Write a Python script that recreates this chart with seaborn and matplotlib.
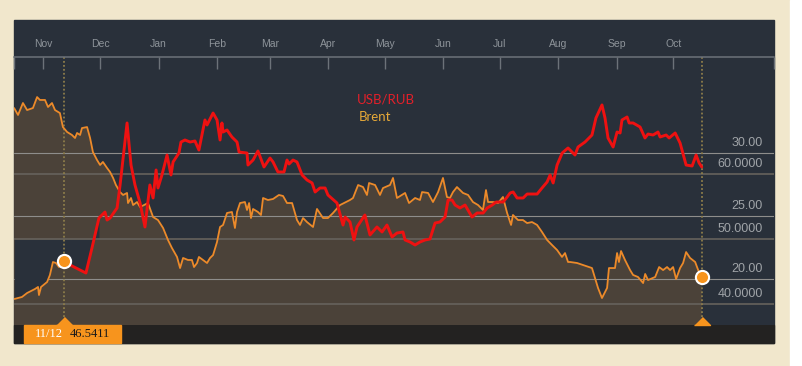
import numpy as np
import pandas as pd
import matplotlib
matplotlib.use("Agg")
import matplotlib.pyplot as plt
import matplotlib.dates as mdates
from matplotlib.patches import Rectangle
from matplotlib.transforms import blended_transform_factory
import seaborn as sns

sns.set_theme(style="white")
plt.rcParams['font.family'] = ['Liberation Sans', 'DejaVu Sans']

START = pd.Timestamp("2014-11-01")

# ---------------- data (days counted from 2014-11-01) ----------------
# USD/RUB before the selected date (drawn in orange)
usd_pre_days = [-15.5, -11.4, -8.7, -4.5, -2.9, -2.4, -1.3, 1.9, 3.4, 5.0,
                6.6, 8.2, 11]
usd_pre_vals = [40.77, 41.08, 41.69, 42.31, 42.62, 41.38, 42.62, 43.38, 44.46, 46.46,
                46.31, 45.69, 46.5411]

# USD/RUB from the selected date on (red)
usd_days = [11, 14.1, 22.5, 25.7, 29.4, 32.6, 33.7, 35.3, 39.0, 40.6,
            42.2, 44.3, 46.4, 48.5, 51.2, 53.8, 56.4, 58.1, 59.7, 60.7,
            62.8, 65.5, 67.6, 68.7, 71.8, 72.9, 75.0, 77.7, 80.3, 82.4,
            85.6, 86.7, 89.9, 92.0, 93.6, 94.6, 95.2, 97.3, 99.9, 102.6,
            103.7, 107.9, 108.4, 111.1, 113.7, 116.9, 120.1, 121.7, 124.3, 127.5,
            129.1, 130.2, 132.3, 134.4, 137.1, 139.7, 142.4, 144.0, 146.6, 149.3,
            150.8, 155.6, 158.8, 159.9, 162.5, 164.6, 166.2, 170.4, 173.1, 176.8,
            179.5, 182.1, 184.8, 187.4, 190.6, 191.7, 194.3, 197.0, 199.6, 202.3,
            204.9, 207.6, 210.2, 212.9, 214.5, 216.6, 218.2, 220.8, 223.5, 227.2,
            229.9, 233.1, 235.2, 237.9, 240.0, 243.7, 245.8, 247.4, 249.0, 251.1,
            254.3, 256.4, 261.7, 264.3, 267.0, 268.6, 270.2, 272.3, 275.0, 278.1,
            280.2, 281.8, 283.4, 287.1, 290.8, 292.9, 296.1, 297.7, 299.3, 302.0,
            304.1, 305.7, 306.7, 309.4, 310.5, 312.6, 316.3, 318.9, 320.5, 323.2,
            325.8, 326.9, 330.1, 331.7, 334.9, 337.5, 340.7, 343.9, 346.0, 347.6,
            349]
usd_vals = [46.5411, 46.0, 44.77, 48.62, 53.23, 54.15, 52.92, 53.23, 54.77, 58.31,
            62.46, 67.85, 61.38, 58.31, 55.54, 51.85, 58.31, 56.31, 60.62, 57.85,
            59.85, 62.92, 59.85, 61.85, 63.23, 64.92, 65.23, 64.92, 65.08, 63.69,
            68.31, 67.54, 69.38, 68.31, 65.23, 67.85, 66.46, 66.77, 65.69, 64.92,
            63.38, 63.23, 61.38, 62.15, 63.54, 61.08, 62.46, 61.85, 60.31, 60.31,
            62.15, 61.54, 62.15, 61.85, 59.85, 59.08, 58.62, 57.23, 57.85, 57.85,
            56.77, 55.54, 52.15, 53.38, 52.62, 49.85, 51.85, 53.69, 50.62, 51.85,
            51.08, 52.15, 50.31, 50.92, 51.08, 49.85, 49.54, 49.08, 49.54, 49.85,
            50.0, 52.46, 52.62, 53.38, 56.0, 56.0, 55.23, 54.77, 55.23, 53.38,
            54.0, 54.0, 54.77, 55.23, 55.69, 55.69, 56.46, 57.08, 57.23, 56.31,
            56.31, 56.92, 56.92, 57.85, 58.77, 59.85, 58.62, 61.38, 63.23, 64.0,
            63.38, 62.92, 64.15, 64.92, 66.0, 68.62, 70.62, 68.62, 65.54, 64.15,
            66.46, 66.31, 68.31, 68.77, 67.85, 67.85, 67.23, 65.54, 66.15, 66.0,
            66.46, 65.69, 66.0, 65.54, 66.31, 64.77, 61.38, 61.23, 62.92, 61.69,
            61.08]

# Brent (values on the 30.00 / 25.00 / 20.00 scale)
brent_days = [-15.6, -13.5, -10.9, -8.7, -5.6, -3.4, -1.9, 0.8, 2.4, 4.5,
              6.1, 8.7, 10.3, 12.5, 15.1, 16.7, 17.8, 19.4, 20.4, 23.1,
              24.7, 26.2, 28.4, 30.0, 31.5, 33.7, 35.3, 36.9, 38.4, 40.6,
              42.2, 44.3, 44.8, 46.4, 47.5, 49.6, 51.2, 55.4, 58.1, 60.7,
              63.4, 66.0, 68.1, 70.8, 72.4, 74.0, 76.6, 78.7, 79.8, 81.4,
              82.4, 84.6, 86.7, 88.3, 89.9, 92.0, 93.6, 95.2, 97.3, 99.9,
              101.5, 102.6, 104.2, 106.8, 107.9, 109.0, 110.0, 111.1, 113.7, 115.3,
              116.4, 119.0, 121.7, 124.8, 127.0, 129.1, 131.8, 134.4, 136.0, 137.6,
              139.7, 142.9, 145.0, 148.2, 150.8, 153.5, 157.2, 160.4, 162.5, 164.1,
              166.8, 169.4, 171.5, 172.6, 175.8, 178.4, 180.0, 183.7, 185.3, 187.4,
              191.7, 193.8, 197.0, 199.6, 200.7, 203.9, 206.5, 209.2, 211.8, 213.9,
              215.5, 217.1, 219.2, 222.4, 225.1, 227.7, 230.4, 233.0, 234.6, 235.7,
              238.3, 241.0, 243.6, 245.8, 247.9, 248.9, 251.6, 254.2, 256.4, 259.0,
              261.7, 264.3, 267.0, 269.6, 272.3, 274.9, 276.5, 278.1, 279.2, 282.9,
              286.1, 290.8, 292.4, 294.0, 296.1, 298.8, 299.8, 303.0, 304.1, 305.1,
              306.2, 308.3, 311.0, 312.6, 315.2, 317.9, 319.0, 320.5, 324.3, 326.4,
              328.5, 330.6, 332.2, 333.8, 335.4, 337.5, 339.1, 340.7, 342.8, 345.5,
              347.1, 349]
brent_vals = [33.57, 33.02, 33.97, 33.41, 33.57, 34.44, 34.21, 34.21, 33.65, 33.97,
              33.41, 33.17, 32.06, 31.67, 31.43, 31.19, 31.59, 31.43, 31.98, 32.06,
              31.19, 30.08, 29.44, 29.05, 29.29, 28.81, 28.49, 28.02, 27.46, 26.90,
              26.67, 26.83, 26.03, 26.43, 25.87, 26.11, 25.71, 26.03, 24.92, 24.68,
              24.05, 23.10, 22.46, 21.75, 20.87, 21.67, 21.51, 21.51, 20.95, 21.27,
              21.75, 21.51, 21.27, 21.67, 21.90, 22.94, 24.13, 24.29, 25.24, 25.32,
              24.05, 25.32, 26.03, 26.11, 25.48, 26.03, 24.84, 25.56, 25.32, 25.08,
              26.43, 26.27, 26.35, 26.67, 26.59, 26.03, 26.03, 24.68, 24.29, 24.84,
              24.52, 24.13, 25.56, 24.84, 24.84, 25.24, 25.87, 26.11, 26.27, 26.43,
              27.46, 27.30, 26.67, 27.62, 27.46, 26.67, 27.22, 27.46, 28.02, 26.43,
              26.83, 26.03, 26.43, 26.27, 26.90, 26.83, 26.11, 26.90, 28.02, 26.51,
              26.43, 26.90, 27.30, 26.83, 26.67, 26.11, 25.87, 25.48, 27.06, 26.11,
              26.11, 26.03, 26.51, 25.24, 24.29, 25.08, 24.68, 24.68, 24.44, 24.52,
              24.29, 23.73, 23.10, 22.70, 22.30, 21.75, 22.06, 21.35, 21.35, 21.27,
              21.11, 20.87, 20.08, 19.29, 18.49, 19.29, 20.87, 20.87, 22.06, 21.35,
              22.22, 21.51, 20.71, 20.32, 20.16, 19.68, 20.40, 19.92, 20.16, 20.95,
              20.71, 20.95, 20.71, 20.95, 20.00, 20.87, 21.27, 22.14, 21.67, 21.35,
              20.71, 20.16]

month_labels = ["Nov", "Dec", "Jan", "Feb", "Mar", "Apr", "May", "Jun",
                "Jul", "Aug", "Sep", "Oct"]
usd_ticks = [60, 50, 40]
brent_ticks = [30, 25, 20]
series_names = ["USB/RUB", "Brent"]

# ---------------- styling ----------------
BEIGE = "#f1e7cc"
DARK = "#29303a"
BROWN = "#4b4239"
STRIP = "#232221"
RED = "#ee1111"
ORANGE = "#ec8a2a"
MARK = "#f7941d"
GRID_A = "#8e8d8b"
GRID_B = "#66625c"
TXT = "#a0a4a8"
MONTH = "#8e949a"
VLINE = "#8c7c4a"

W, H = 802, 366
fig = plt.figure(figsize=(W / 100, H / 100), dpi=100)
fig.patch.set_facecolor(BEIGE)


def fx(px):
    return px / W


def fy(py):
    return 1 - py / H


fig.add_artist(Rectangle((fx(790), 0), 1 - fx(790), 1, transform=fig.transFigure,
                         color="white", zorder=0))
fig.add_artist(Rectangle((fx(14), fy(343)), fx(774) - fx(14), fy(20) - fy(343),
                         transform=fig.transFigure, color=DARK, zorder=0))
fig.add_artist(Rectangle((fx(14), fy(343)), fx(774) - fx(14), fy(325) - fy(343),
                         transform=fig.transFigure, color=STRIP, zorder=0))

rect = [fx(14), fy(325), fx(774) - fx(14), fy(57) - fy(325)]
ax0 = fig.add_axes(rect, label="brent_fill")
ax1 = fig.add_axes(rect, sharex=ax0, label="usd_grid")
ax2 = fig.add_axes(rect, sharex=ax0, label="brent_line")
ax3 = fig.add_axes(rect, sharex=ax0, label="usd_line")

pre_dates = START + pd.to_timedelta(usd_pre_days, unit="D")
usd_dates = START + pd.to_timedelta(usd_days, unit="D")
brent_dates = START + pd.to_timedelta(brent_days, unit="D")

# Brent area fill (bottom layer)
ax0.set_facecolor(DARK)
ax0.fill_between(mdates.date2num(brent_dates), brent_vals, 0, color=BROWN, lw=0, zorder=1)
for v in brent_ticks:
    ax0.axhline(v, color=GRID_A, lw=0.8, zorder=2)
    ax0.annotate(f"{v:.2f}", xy=(1, v), xycoords=("axes fraction", "data"),
                 xytext=(-8, 5.4), textcoords="offset points", ha="right",
                 va="baseline", color=TXT, fontsize=9)

# dark band between the 50 line and USD/RUB at the start (until it first crosses 50)
all_days = np.array(usd_pre_days + usd_days[1:], dtype=float)
all_vals = np.array(usd_pre_vals + usd_vals[1:], dtype=float)
all_x = mdates.date2num(START + pd.to_timedelta(all_days, unit="D"))
first_cross = int(np.argmax(all_vals >= 50))
ax1.set_facecolor("none")
ax1.fill_between(all_x[:first_cross + 1], all_vals[:first_cross + 1], 50,
                 color=DARK, lw=0, zorder=1)
for v in usd_ticks:
    ax1.axhline(v, color=GRID_B, lw=1.2, zorder=2)
    ax1.annotate(f"{v:.4f}", xy=(1, v), xycoords=("axes fraction", "data"),
                 xytext=(-8, 5.0), textcoords="offset points", ha="right",
                 va="baseline", color=TXT, fontsize=9)
sel_date = usd_dates[0]
end_date = brent_dates[-1]
for d in (sel_date, end_date):
    ax1.axvline(mdates.date2num(d), ymin=0.03, ymax=1, color=VLINE, lw=1.3,
                ls=(0, (1, 1.2)), zorder=3)

# Brent line
ax2.set_facecolor("none")
sns.lineplot(x=brent_dates, y=brent_vals, ax=ax2, color=ORANGE, linewidth=1.3,
             estimator=None, sort=False)
ax2.plot([end_date], [brent_vals[-1]], "o", ms=9.5, mfc=MARK, mec="white",
         mew=1.5, zorder=6, clip_on=False)

# USD/RUB lines
ax3.set_facecolor("none")
sns.lineplot(x=pre_dates, y=usd_pre_vals, ax=ax3, color=ORANGE, linewidth=1.3,
             estimator=None, sort=False)
sns.lineplot(x=usd_dates, y=usd_vals, ax=ax3, color=RED, linewidth=2.1,
             estimator=None, sort=False)
ax3.plot([sel_date], [usd_vals[0]], "o", ms=9.5, mfc=MARK, mec="white",
         mew=1.5, zorder=6, clip_on=False)
tri = [(-1, 0), (1, 0), (0, 1)]
btf = blended_transform_factory(ax3.transData, ax3.transAxes)
for d in (sel_date, end_date):
    ax3.plot([mdates.date2num(d)], [0], marker=tri, ms=11.5, color=MARK, lw=0,
             transform=btf, clip_on=False, zorder=7)

ax3.text(0.4513, 0.84, series_names[0], transform=ax3.transAxes, color="#e3202a",
         fontsize=9.5, va="center", ha="left", family=["Lato", "DejaVu Sans"])
ax3.text(0.4539, 0.776, series_names[1], transform=ax3.transAxes, color="#e6a938",
         fontsize=9.5, va="center", ha="left", family=["Lato", "DejaVu Sans"])

# limits
xmin = START - pd.Timedelta(days=15.64)
xmax = START + pd.Timedelta(days=387.3)
ax0.set_xlim(mdates.date2num(xmin), mdates.date2num(xmax))
for ax in (ax0, ax2):
    ax.set_ylim(16.35, 37.62)
for ax in (ax1, ax3):
    ax.set_ylim(36.77, 78.0)

for ax in (ax0, ax1, ax2, ax3):
    ax.set_xlabel("")
    ax.set_ylabel("")
    for s in ax.spines.values():
        s.set_visible(False)
    ax.tick_params(which="both", bottom=False, top=False, left=False, right=False,
                   labelbottom=False, labeltop=False, labelleft=False, labelright=False)
    ax.grid(False)

month_starts = pd.date_range("2014-11-01", periods=len(month_labels), freq="MS")
ax3.set_xticks(mdates.date2num(month_starts))
ax3.set_xticklabels(month_labels)
ax3.set_xticks([mdates.date2num(xmin), mdates.date2num(xmax)], minor=True)
ax3.xaxis.tick_top()
ax3.spines["top"].set_visible(True)
ax3.spines["top"].set_color("#6c7279")
ax3.spines["top"].set_linewidth(1.1)
ax3.tick_params(axis="x", which="both", top=True, labeltop=True, direction="in",
                length=8.6, width=1.0, color="#6c7279", labelcolor=MONTH,
                labelsize=7.5, pad=5.8)
ax3.tick_params(axis="x", which="minor", labeltop=False)

# selected value box
fig.add_artist(Rectangle((fx(24), fy(343)), fx(121) - fx(24), fy(325) - fy(343),
                         transform=fig.transFigure, color=MARK, zorder=8))
fig.text(fx(35), fy(334), sel_date.strftime("%m/%d"), color="white", fontsize=9,
         va="center", ha="left", family=["Liberation Serif", "DejaVu Serif"], zorder=9)
fig.text(fx(70), fy(334), f"{usd_vals[0]:.4f}", color="#1a1a1a", fontsize=9,
         va="center", ha="left", family=["Liberation Serif", "DejaVu Serif"], zorder=9)

fig.savefig("out.png", dpi=100, facecolor=fig.get_facecolor())
